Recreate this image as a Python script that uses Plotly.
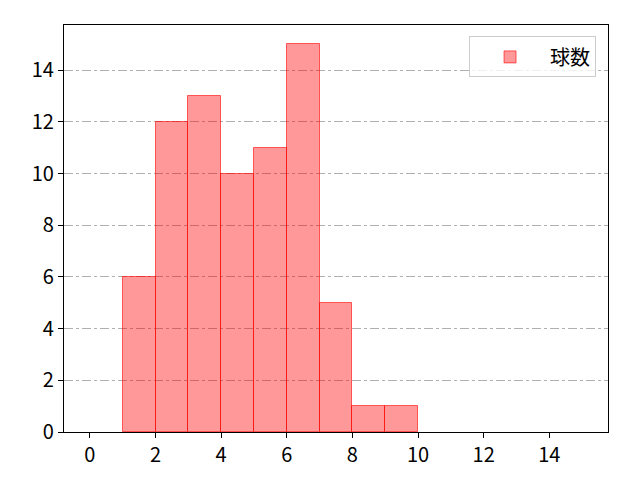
import plotly.graph_objects as go

bin_left = [1, 2, 3, 4, 5, 6, 7, 8, 9]
counts = [6, 12, 13, 10, 11, 15, 5, 1, 1]
series_name = "球数"
x_ticks = [0, 2, 4, 6, 8, 10, 12, 14]
y_ticks = [0, 2, 4, 6, 8, 10, 12, 14]

fig = go.Figure()

fig.add_trace(go.Bar(
    x=[b + 0.5 for b in bin_left], y=counts, width=1,
    name=series_name,
    marker=dict(color="rgba(255,0,0,0.4)", line=dict(color="rgba(255,0,0,0.6)", width=1)),
))

axis_common = dict(
    showline=True, linecolor="black", linewidth=1.3, mirror=True,
    ticks="outside", ticklen=5, tickwidth=1.2, tickcolor="black",
    zeroline=False,
    tickfont=dict(size=20, color="black"),
)

# page body adds an 8px offset, so margins are shifted to compensate
fig.update_layout(
    width=640, height=480,
    margin=dict(l=56, r=40, t=17, b=56),
    plot_bgcolor="white", paper_bgcolor="white",
    font=dict(family="Noto Sans CJK JP, DejaVu Sans", size=20, color="black"),
    xaxis=dict(range=[-0.79, 15.79], tickvals=x_ticks, showgrid=False, **axis_common),
    yaxis=dict(range=[0, 15.75], tickvals=y_ticks, showgrid=True,
               gridcolor="#b0b0b0", griddash="dashdot", gridwidth=0.8, **axis_common),
    showlegend=True,
    legend=dict(x=0.978, y=0.972, xanchor="right", yanchor="top",
                bordercolor="#cccccc", borderwidth=1, bgcolor="rgba(255,255,255,0.8)",
                font=dict(size=20), itemwidth=70),
    bargap=0,
)

fig.write_html("out.html")
